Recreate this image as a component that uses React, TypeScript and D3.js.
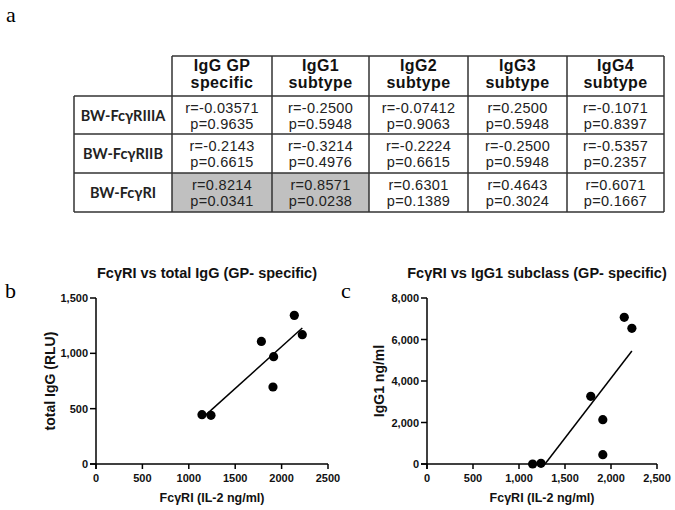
import React from "react";
import * as d3 from "d3";

const colHeaders = [
  ["IgG GP", "specific"],
  ["IgG1", "subtype"],
  ["IgG2", "subtype"],
  ["IgG3", "subtype"],
  ["IgG4", "subtype"],
];
const rowLabels = ["BW-FcγRIIIA", "BW-FcγRIIB", "BW-FcγRI"];
const rValues = [
  ["-0.03571", "-0.2500", "-0.07412", "0.2500", "-0.1071"],
  ["-0.2143", "-0.3214", "-0.2224", "-0.2500", "-0.5357"],
  ["0.8214", "0.8571", "0.6301", "0.4643", "0.6071"],
];
const pValues = [
  ["0.9635", "0.5948", "0.9063", "0.5948", "0.8397"],
  ["0.6615", "0.4976", "0.6615", "0.5948", "0.2357"],
  ["0.0341", "0.0238", "0.1389", "0.3024", "0.1667"],
];
const significant = [
  [false, false, false, false, false],
  [false, false, false, false, false],
  [true, true, false, false, false],
];

// Panel b
const fcgriB = [1142, 1239, 1782, 1914, 1907, 2137, 2223];
const totalIgG = [446, 440, 1108, 970, 696, 1343, 1169];
const yTicksB = [0, 500, 1000, 1500];
const xTicks = [0, 500, 1000, 1500, 2000, 2500];

// Panel c
const fcgriC = [1148, 1239, 1780, 1911, 1911, 2144, 2227];
const igg1 = [0, 32, 3261, 2137, 450, 7068, 6538];
const yTicksC = [0, 2000, 4000, 6000, 8000];

function fit(xs: number[], ys: number[]) {
  const mx = d3.mean(xs)!;
  const my = d3.mean(ys)!;
  let sxy = 0, sxx = 0;
  xs.forEach((x, i) => {
    sxy += (x - mx) * (ys[i] - my);
    sxx += (x - mx) * (x - mx);
  });
  const slope = sxy / sxx;
  return { slope, intercept: my - slope * mx };
}

type PanelProps = {
  x0: number;
  x1: number;
  xs: number[];
  ys: number[];
  yMax: number;
  yTicks: number[];
  xFmt: (v: number) => string;
  title: string;
  yTitle: string;
  yTitleX: number;
};

function Panel(p: PanelProps) {
  const x = d3.scaleLinear().domain([0, 2500]).range([p.x0, p.x1]);
  const y = d3.scaleLinear().domain([0, p.yMax]).range([464, 298]);
  const f = fit(p.xs, p.ys);
  const xmin = d3.min(p.xs)!;
  const xmax = d3.max(p.xs)!;
  const xs0 = Math.max(xmin, -f.intercept / f.slope);
  const line = d3.line<number>().x((v) => x(v)).y((v) => y(f.slope * v + f.intercept));
  const yFmt = d3.format(",");
  const cx = (p.x0 + p.x1) / 2;
  return (
    <g fontFamily="Arial, 'Liberation Sans', sans-serif" fill="#111">
      <text x={cx - 5} y={278} textAnchor="middle" fontSize={14.5} fontWeight="bold">
        {p.title}
      </text>
      <line x1={p.x0} x2={p.x0} y1={y(p.yMax)} y2={469} stroke="#000" strokeWidth={1.5} />
      <line x1={p.x0 - 6} x2={p.x1} y1={y(0)} y2={y(0)} stroke="#000" strokeWidth={1.5} />
      {p.yTicks.map((t) => (
        <g key={"y" + t}>
          <line x1={p.x0 - 6} x2={p.x0} y1={y(t)} y2={y(t)} stroke="#000" strokeWidth={1.5} />
          <text x={p.x0 - 8} y={y(t) + 4} textAnchor="end" fontSize={11} fontWeight="bold">
            {yFmt(t)}
          </text>
        </g>
      ))}
      {xTicks.map((t) => (
        <g key={"x" + t}>
          <line x1={x(t)} x2={x(t)} y1={y(0)} y2={y(0) + 5} stroke="#000" strokeWidth={1.5} />
          <text x={x(t)} y={482} textAnchor="middle" fontSize={11} fontWeight="bold">
            {p.xFmt(t)}
          </text>
        </g>
      ))}
      <text x={cx} y={502} textAnchor="middle" fontSize={12.5} fontWeight="bold">
        FcγRI (IL-2 ng/ml)
      </text>
      <text
        transform={`translate(${p.yTitleX},381) rotate(-90)`}
        textAnchor="middle"
        fontSize={14}
        fontWeight="bold"
      >
        {p.yTitle}
      </text>
      <path d={line([xs0, xmax]) || ""} stroke="#000" strokeWidth={1.5} fill="none" />
      {p.xs.map((v, i) => (
        <circle key={i} cx={x(v)} cy={y(p.ys[i])} r={4.6} fill="#000" />
      ))}
    </g>
  );
}

export default function App() {
  const colX = [74, 172, 272, 369, 468, 567, 664];
  const rowY = [56, 96, 134, 173, 212];
  return (
    <svg
      width={675}
      height={510}
      style={{ display: "block", background: "#fff", position: "absolute", left: 0, top: 0 }}
    >
      <text x={6} y={22} fontFamily="'Liberation Serif', serif" fontSize={22}>a</text>
      <text x={5} y={298} fontFamily="'Liberation Serif', serif" fontSize={22}>b</text>
      <text x={341} y={298} fontFamily="'Liberation Serif', serif" fontSize={22}>c</text>

      {significant.map((row, ri) =>
        row.map((s, ci) =>
          s ? (
            <rect
              key={`bg${ri}-${ci}`}
              x={colX[ci + 1]}
              y={rowY[ri + 1]}
              width={colX[ci + 2] - colX[ci + 1]}
              height={rowY[ri + 2] - rowY[ri + 1]}
              fill="#c0c0c0"
            />
          ) : null
        )
      )}
      <g stroke="#333" strokeWidth={1.5}>
        <line x1={colX[1]} x2={colX[6]} y1={rowY[0]} y2={rowY[0]} />
        {rowY.slice(1).map((yy) => (
          <line key={"h" + yy} x1={colX[0]} x2={colX[6]} y1={yy} y2={yy} />
        ))}
        <line x1={colX[0]} x2={colX[0]} y1={rowY[1]} y2={rowY[4]} />
        {colX.slice(1).map((xx) => (
          <line key={"v" + xx} x1={xx} x2={xx} y1={rowY[0]} y2={rowY[4]} />
        ))}
      </g>
      {colHeaders.map((h, ci) => {
        const cx = (colX[ci + 1] + colX[ci + 2]) / 2;
        return (
          <g key={"hd" + ci} fontFamily="Arial, 'Liberation Sans', sans-serif" fontWeight="bold" fontSize={16} letterSpacing={0.4} textAnchor="middle" fill="#111">
            <text x={cx} y={71}>{h[0]}</text>
            <text x={cx} y={87.5}>{h[1]}</text>
          </g>
        );
      })}
      {rowLabels.map((l, ri) => (
        <text
          key={"rl" + ri}
          x={(colX[0] + colX[1]) / 2}
          y={rowY[ri + 1] + 25}
          textAnchor="middle"
          fontFamily="Lato, 'Open Sans', sans-serif"
          fontWeight="bold"
          fontSize={14.5}
          fill="#222"
        >
          {l}
        </text>
      ))}
      {rValues.map((row, ri) =>
        row.map((r, ci) => {
          const cx = (colX[ci + 1] + colX[ci + 2]) / 2;
          return (
            <g key={`c${ri}-${ci}`} fontFamily="Arial, 'Liberation Sans', sans-serif" fontSize={14.5} letterSpacing={0.3} textAnchor="middle" fill="#222">
              <text x={cx} y={rowY[ri + 1] + 16.7}>{"r=" + r}</text>
              <text x={cx} y={rowY[ri + 1] + 33}>{"p=" + pValues[ri][ci]}</text>
            </g>
          );
        })
      )}

      <Panel
        x0={96}
        x1={328}
        xs={fcgriB}
        ys={totalIgG}
        yMax={1500}
        yTicks={yTicksB}
        xFmt={(v) => String(v)}
        title="FcγRI vs total IgG (GP- specific)"
        yTitle="total IgG (RLU)"
        yTitleX={55}
      />
      <Panel
        x0={427}
        x1={657}
        xs={fcgriC}
        ys={igg1}
        yMax={8000}
        yTicks={yTicksC}
        xFmt={d3.format(",")}
        title="FcγRI vs IgG1 subclass (GP- specific)"
        yTitle="IgG1 ng/ml"
        yTitleX={384}
      />
    </svg>
  );
}
